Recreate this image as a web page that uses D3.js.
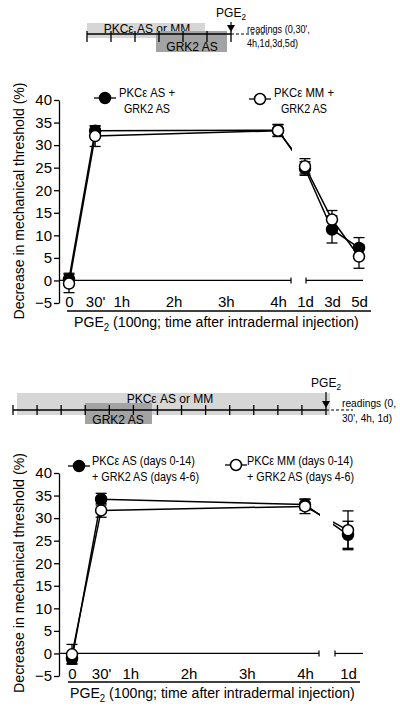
<!DOCTYPE html>
<html><head><meta charset="utf-8">
<script src="https://cdn.jsdelivr.net/npm/d3@7"></script>
<style>
body{margin:0;background:#fff;}
svg{font-family:"Liberation Sans",Arial,sans-serif;}
</style></head>
<body><svg id="c" width="400" height="715"></svg>
<script>
// ---------- data ----------
const yTicks = [-5,0,5,10,15,20,25,30,35,40];
const hourTicks = [0,0.5,1,2,3,4];
const hourLabels = ["0","30'","1h","2h","3h","4h"];
const dayTicks1 = [1,3,5];
const dayLabels1 = ["1d","3d","5d"];
const dayTicks2 = [1];
const dayLabels2 = ["1d"];

// chart 1 : time points (hours or days)
const times1 = [{h:0},{h:0.5},{h:4},{d:1},{d:3},{d:5}];
const asGrk1 = [0.3, 33.2, 33.3, 24.8, 11.3, 7.2];
const asGrk1Err = [1.3, 1.0, 1.3, 1.5, 3.0, 2.3];
const mmGrk1 = [-0.7, 32.0, 33.2, 25.3, 13.5, 5.3];
const mmGrk1Err = [2.0, 2.3, 1.3, 1.7, 2.0, 2.6];

// chart 2
const times2 = [{h:0},{h:0.5},{h:4},{d:1}];
const asGrk2 = [-1.2, 34.2, 33.0, 26.3];
const asGrk2Err = [1.0, 1.3, 1.2, 3.0];
const mmGrk2 = [-0.2, 31.7, 32.6, 27.3];
const mmGrk2Err = [2.2, 1.5, 1.6, 4.3];

const legend1 = [["PKCε AS +","GRK2 AS"],["PKCε MM +","GRK2 AS"]];
const legend2 = [["PKCε AS (days 0-14)","+ GRK2 AS (days 4-6)"],["PKCε MM (days 0-14)","+ GRK2 AS (days 4-6)"]];

const yTitle = "Decrease in mechanical threshold (%)";

// ---------- drawing ----------
const svg = d3.select("#c");

// text with PGE2 subscript, squeezed horizontally to a width
function pgeText(sel, x, y, size, rest, width, anchor){
  const g = sel.append("g");
  const t = g.append("text").attr("font-size",size);
  t.append("tspan").text("PGE");
  t.append("tspan").attr("font-size",size*0.68).attr("dy",size*0.28).text("2");
  if(rest) t.append("tspan").attr("dy",-size*0.28).text(rest);
  const w = t.node().getComputedTextLength();
  const sx = width ? width / w : 1;
  const dx = anchor==="middle" ? -w*sx/2 : 0;
  g.attr("transform",`translate(${x+dx},${y}) scale(${sx},1)`);
  return g;
}

function squeezed(sel, x, y, size, str, width){
  const g = sel.append("g");
  const t = g.append("text").attr("font-size",size).text(str);
  const w = t.node().getComputedTextLength();
  g.attr("transform",`translate(${x},${y}) scale(${Math.min(1,width/w)},1)`);
  return g;
}

function timeline(g, o){
  const tx = d3.scaleLinear().domain([0,o.n]).range([o.x0,o.x1]);
  g.append("rect").attr("x",o.light[0]).attr("y",o.light[1]).attr("width",o.light[2]-o.light[0]).attr("height",o.light[3]-o.light[1]).attr("fill","#d6d6d6");
  g.append("text").attr("x",o.lightText[0]).attr("y",o.lightText[1]).attr("font-size",12).attr("text-anchor","middle").text("PKCε AS or MM");
  g.append("rect").attr("x",o.dark[0]).attr("y",o.dark[1]).attr("width",o.dark[2]-o.dark[0]).attr("height",o.dark[3]-o.dark[1]).attr("fill","#a3a3a3");
  g.append("text").attr("x",o.darkText[0]).attr("y",o.darkText[1]).attr("font-size",12).attr("text-anchor","middle").text("GRK2 AS");
  g.append("line").attr("x1",o.x0).attr("x2",o.x1).attr("y1",o.y).attr("y2",o.y).attr("stroke","#000").attr("stroke-width",1.5);
  g.append("line").attr("x1",o.x1).attr("x2",o.dashEnd).attr("y1",o.y).attr("y2",o.y).attr("stroke","#000").attr("stroke-width",1).attr("stroke-dasharray","3,2");
  g.selectAll("line.tk").data(d3.range(o.n+1)).join("line").attr("class","tk")
    .attr("x1",d=>tx(d)).attr("x2",d=>tx(d)).attr("y1",o.y-o.tk[0]).attr("y2",o.y+o.tk[1]).attr("stroke","#000").attr("stroke-width",1.3);
  pgeText(g, o.x1, o.pgeY, 12, null, null, "middle");
  g.append("line").attr("x1",o.x1).attr("x2",o.x1).attr("y1",o.pgeY+5).attr("y2",o.y-8).attr("stroke","#000").attr("stroke-width",1.2);
  g.append("path").attr("d",`M${o.x1-4},${o.y-9}L${o.x1+4},${o.y-9}L${o.x1},${o.y-2}Z`).attr("fill","#000");
  squeezed(g, o.readX, o.readY1, 11.5, o.read1, o.readW[0]);
  squeezed(g, o.readX, o.readY2, 11.5, o.read2, o.readW[1]);
}

function chart(o){
  const g = svg.append("g");
  const y = d3.scaleLinear().domain([-5,40]).range(o.yr);
  const xh = d3.scaleLinear().domain([0,4]).range(o.hr);
  const xd = d3.scaleLinear().domain(o.dd).range(o.dr);
  const xp = t => t.h!==undefined ? xh(t.h) : xd(t.d);

  // y axis
  const ya = g.append("g").attr("transform",`translate(${o.ax},0)`)
    .call(d3.axisLeft(y).tickValues(yTicks).tickSize(5).tickSizeOuter(0).tickPadding(2));
  ya.select(".domain").attr("stroke-width",1.3);
  ya.selectAll(".tick line").attr("stroke-width",1.3);
  ya.selectAll("text").attr("font-size",15).attr("font-family","Liberation Sans, Arial").attr("fill","#000");

  // y title
  g.append("text").attr("transform",`translate(${o.ytx},${o.yty}) rotate(-90)`)
    .attr("text-anchor","middle").attr("font-size",15).attr("textLength",o.ytl).attr("lengthAdjust","spacingAndGlyphs").text(yTitle);

  // x tick labels
  const xa1 = g.append("g").attr("transform",`translate(0,${o.xly})`)
    .call(d3.axisBottom(xh).tickValues(hourTicks).tickFormat((d,i)=>hourLabels[i]).tickSize(0).tickPadding(0));
  const xa2 = g.append("g").attr("transform",`translate(0,${o.xly})`)
    .call(d3.axisBottom(xd).tickValues(o.dt).tickFormat((d,i)=>o.dl[i]).tickSize(0).tickPadding(0));
  [xa1,xa2].forEach(a=>{a.select(".domain").remove();a.selectAll("text").attr("font-size",15).attr("font-family","Liberation Sans, Arial").attr("fill","#000");});

  // x bottom line + title
  g.append("line").attr("x1",o.xl[0]).attr("x2",o.xl[1]).attr("y1",o.xl[2]).attr("y2",o.xl[2]).attr("stroke","#000").attr("stroke-width",1.3);
  pgeText(g, o.xt[0], o.xt[1], 15, " (100ng; time after intradermal injection)", o.xt[2], "start");

  // zero baseline with break
  const y0 = y(0);
  g.append("line").attr("x1",o.ax).attr("x2",o.brk[0]).attr("y1",y0).attr("y2",y0).attr("stroke","#000").attr("stroke-width",1.2);
  g.append("line").attr("x1",o.brk[1]).attr("x2",o.brk[2]).attr("y1",y0).attr("y2",y0).attr("stroke","#000").attr("stroke-width",1.2);
  [o.brk[0],o.brk[1]].forEach(x=>g.append("line").attr("x1",x).attr("x2",x).attr("y1",y0-3).attr("y2",y0+3).attr("stroke","#000").attr("stroke-width",1.2));

  const series = [
    {v:o.as, e:o.asE, fill:"#000"},
    {v:o.mm, e:o.mmE, fill:"#fff"}
  ];
  const line = d3.line().x((d,i)=>xp(o.t[i])).y(d=>y(d));
  series.forEach(s=>{
    g.append("path").attr("d",line(s.v)).attr("fill","none").attr("stroke","#000").attr("stroke-width",1.5);
  });
  // gap in the lines at axis break
  g.append("rect").attr("x",o.gap[0]).attr("width",o.gap[1]-o.gap[0]).attr("y",y(40)).attr("height",y0-y(40)-3).attr("fill","#fff");

  series.forEach(s=>{
    const eg = g.append("g");
    s.v.forEach((v,i)=>{
      const x = xp(o.t[i]);
      eg.append("line").attr("x1",x).attr("x2",x).attr("y1",y(v+s.e[i])).attr("y2",y(v-s.e[i])).attr("stroke","#000").attr("stroke-width",1.3);
      [v+s.e[i], v-s.e[i]].forEach(w=>eg.append("line").attr("x1",x-5.5).attr("x2",x+5.5).attr("y1",y(w)).attr("y2",y(w)).attr("stroke","#000").attr("stroke-width",1.3));
    });
  });
  series.forEach(s=>{
    g.selectAll(null).data(s.v).join("circle").attr("cx",(d,i)=>xp(o.t[i])).attr("cy",d=>y(d)).attr("r",5.5)
      .attr("fill",s.fill).attr("stroke","#000").attr("stroke-width",1.5);
  });

  // legend
  o.leg.forEach((L,k)=>{
    const lx = L.mx, ly = L.my;
    g.append("line").attr("x1",lx-11).attr("x2",lx+11).attr("y1",ly).attr("y2",ly).attr("stroke","#000").attr("stroke-width",1.3);
    g.append("circle").attr("cx",lx).attr("cy",ly).attr("r",5.5).attr("fill",k===0?"#000":"#fff").attr("stroke","#000").attr("stroke-width",1.5);
    o.legText[k].forEach((s,j)=>{
      g.append("text").attr("x",L.tx).attr("y",L.ty+j*16).attr("font-size",13).attr("text-anchor",L.anchor).attr("textLength",L.tl[j]).attr("lengthAdjust","spacingAndGlyphs").text(s);
    });
  });
}

// top timeline
timeline(svg.append("g"),{n:6,x0:87,x1:231,y:34,tk:[3,8],dashEnd:268,
  light:[87,23,205,38],lightText:[147,33],dark:[156,31,227,52],darkText:[192,51],
  pgeY:17,readX:247,readY1:33,readY2:47,readW:[63,51],read1:"readings (0,30',",read2:"4h,1d,3d,5d)"});

chart({yr:[303,100],hr:[69,278],dd:[1,5],dr:[305,359],ax:59,ytx:24,yty:201,ytl:237,
  xly:296,dt:dayTicks1,dl:dayLabels1,xl:[67,371,311],xt:[74,327,285],brk:[291,306,363],gap:[292,301],
  t:times1,as:asGrk1,asE:asGrk1Err,mm:mmGrk1,mmE:mmGrk1Err,
  leg:[{mx:105,my:98,tx:147,ty:97,anchor:"middle",tl:[56,46]},{mx:260,my:99,tx:304,ty:97,anchor:"middle",tl:[60,46]}],
  legText:legend1});

// bottom timeline
timeline(svg.append("g"),{n:13,x0:13,x1:326,y:410,tk:[5,5],dashEnd:353,
  light:[17,393,330,415],lightText:[170,403],dark:[85,403,152,424],darkText:[118,424],
  pgeY:387,readX:342,readY1:407,readY2:422,readW:[54,50],read1:"readings (0,",read2:"30', 4h, 1d)"});

chart({yr:[676,473],hr:[72,305],dd:[0,2],dr:[334,362],ax:59,ytx:24,yty:573,ytl:240,
  xly:668,dt:dayTicks2,dl:dayLabels2,xl:[68,360,682],xt:[70,698,285],brk:[319,335,363],gap:[320,333],
  t:times2,as:asGrk2,asE:asGrk2Err,mm:mmGrk2,mmE:mmGrk2Err,
  leg:[{mx:79,my:466,tx:92,ty:465,anchor:"start",tl:[103,107]},{mx:236,my:465,tx:247,ty:465,anchor:"start",tl:[106,107]}],
  legText:legend2});
</script></body></html>
